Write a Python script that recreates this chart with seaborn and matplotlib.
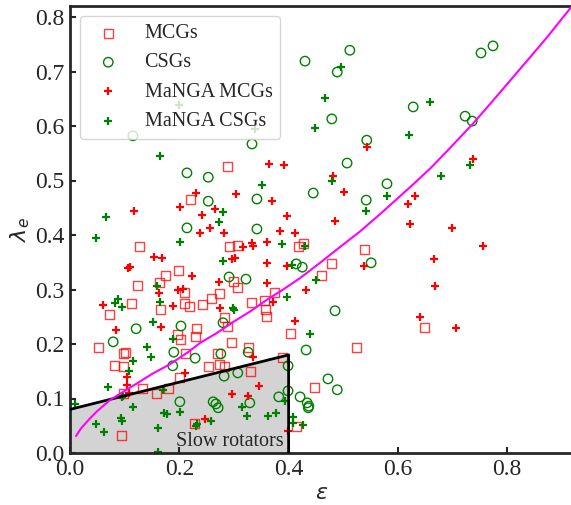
import numpy as np
import pandas as pd
import matplotlib
matplotlib.use("Agg")
import matplotlib.pyplot as plt
import seaborn as sns

# MCGs (open squares)
mcg_eps = [0.289, 0.221, 0.128, 0.291, 0.307, 0.419, 0.428, 0.538, 0.479, 0.461,
           0.403, 0.525, 0.648, 0.448, 0.414, 0.198, 0.174, 0.123, 0.163, 0.274,
           0.300, 0.306, 0.375, 0.333, 0.355, 0.357, 0.360, 0.073, 0.112, 0.165,
           0.209, 0.218, 0.242, 0.259, 0.231, 0.229, 0.196, 0.202, 0.282, 0.289,
           0.295, 0.053, 0.097, 0.102, 0.212, 0.269, 0.326, 0.388, 0.082, 0.097,
           0.132, 0.159, 0.181, 0.201, 0.254, 0.273, 0.282, 0.331, 0.095, 0.227,
           0.097, 0.210]
mcg_lam = [0.525, 0.466, 0.378, 0.378, 0.380, 0.378, 0.385, 0.374, 0.347, 0.325,
           0.220, 0.194, 0.231, 0.121, 0.048, 0.334, 0.325, 0.308, 0.312, 0.292,
           0.314, 0.303, 0.294, 0.277, 0.279, 0.264, 0.251, 0.255, 0.275, 0.264,
           0.275, 0.268, 0.273, 0.284, 0.228, 0.213, 0.218, 0.209, 0.248, 0.233,
           0.202, 0.193, 0.182, 0.185, 0.182, 0.182, 0.193, 0.176, 0.160, 0.158,
           0.119, 0.110, 0.119, 0.138, 0.158, 0.163, 0.158, 0.150, 0.033, 0.055,
           0.110, 0.294]

# CSGs (open circles)
csg_eps = [0.115, 0.214, 0.253, 0.333, 0.342, 0.253, 0.214, 0.342, 0.430, 0.512,
           0.489, 0.479, 0.628, 0.752, 0.774, 0.723, 0.736, 0.543, 0.507, 0.580,
           0.445, 0.542, 0.551, 0.414, 0.425, 0.485, 0.432, 0.399, 0.472, 0.489,
           0.399, 0.421, 0.434, 0.437, 0.436, 0.291, 0.322, 0.121, 0.203, 0.280,
           0.079, 0.190, 0.229, 0.276, 0.326, 0.188, 0.282, 0.307, 0.201, 0.262,
           0.267, 0.271, 0.329, 0.382]
csg_lam = [0.582, 0.514, 0.506, 0.567, 0.466, 0.462, 0.413, 0.411, 0.719, 0.739,
           0.699, 0.613, 0.635, 0.734, 0.747, 0.618, 0.609, 0.574, 0.532, 0.494,
           0.477, 0.464, 0.349, 0.347, 0.341, 0.261, 0.189, 0.160, 0.136, 0.116,
           0.114, 0.103, 0.092, 0.086, 0.083, 0.323, 0.319, 0.228, 0.233, 0.239,
           0.204, 0.185, 0.174, 0.182, 0.185, 0.160, 0.141, 0.147, 0.094, 0.094,
           0.090, 0.083, 0.092, 0.103]

# MaNGA MCGs (red plus)
manga_mcg_eps = [0.364, 0.392, 0.231, 0.201, 0.117, 0.304, 0.370, 0.242, 0.265, 0.256,
                 0.238, 0.282, 0.397, 0.384, 0.360, 0.333, 0.335, 0.317, 0.481, 0.485,
                 0.412, 0.543, 0.501, 0.631, 0.618, 0.622, 0.699, 0.737, 0.756, 0.666,
                 0.668, 0.538, 0.432, 0.412, 0.640, 0.706, 0.399, 0.154, 0.169, 0.106,
                 0.110, 0.223, 0.296, 0.302, 0.360, 0.397, 0.163, 0.198, 0.207, 0.273,
                 0.360, 0.371, 0.060, 0.188, 0.274, 0.084, 0.167, 0.210, 0.335, 0.104,
                 0.104, 0.108, 0.297, 0.326, 0.346, 0.247]
manga_mcg_lam = [0.530, 0.528, 0.477, 0.451, 0.444, 0.475, 0.462, 0.437, 0.448, 0.413,
                 0.404, 0.404, 0.435, 0.407, 0.388, 0.385, 0.380, 0.378, 0.508, 0.426,
                 0.404, 0.561, 0.479, 0.472, 0.457, 0.420, 0.413, 0.539, 0.380, 0.356,
                 0.306, 0.343, 0.299, 0.242, 0.250, 0.229, 0.040, 0.359, 0.358, 0.339,
                 0.341, 0.325, 0.356, 0.357, 0.349, 0.343, 0.294, 0.299, 0.301, 0.314,
                 0.312, 0.277, 0.272, 0.270, 0.266, 0.226, 0.231, 0.147, 0.176, 0.139,
                 0.125, 0.110, 0.108, 0.105, 0.123, 0.062]

# MaNGA CSGs (green plus)
manga_csg_eps = [0.199, 0.339, 0.165, 0.351, 0.066, 0.048, 0.280, 0.273, 0.201, 0.388,
                 0.496, 0.467, 0.448, 0.659, 0.620, 0.479, 0.732, 0.679, 0.580, 0.542,
                 0.430, 0.450, 0.397, 0.406, 0.439, 0.393, 0.408, 0.408, 0.426, 0.280,
                 0.159, 0.082, 0.088, 0.095, 0.165, 0.298, 0.300, 0.152, 0.188, 0.141,
                 0.148, 0.115, 0.108, 0.070, 0.095, 0.097, 0.170, 0.115, 0.009, 0.201,
                 0.172, 0.177, 0.048, 0.062, 0.093, 0.095, 0.161, 0.161, 0.232, 0.231,
                 0.258, 0.315, 0.324, 0.362, 0.377]
manga_csg_lam = [0.639, 0.594, 0.545, 0.491, 0.433, 0.394, 0.442, 0.424, 0.387, 0.383,
                 0.708, 0.651, 0.596, 0.644, 0.583, 0.499, 0.528, 0.508, 0.472, 0.444,
                 0.380, 0.317, 0.286, 0.345, 0.218, 0.095, 0.066, 0.055, 0.051, 0.352,
                 0.306, 0.275, 0.283, 0.268, 0.277, 0.266, 0.262, 0.241, 0.209, 0.195,
                 0.176, 0.169, 0.151, 0.121, 0.103, 0.105, 0.115, 0.084, 0.089, 0.075,
                 0.073, 0.072, 0.054, 0.039, 0.064, 0.059, 0.045, 0.002, 0.053, 0.049,
                 0.059, 0.085, 0.068, 0.068, 0.073]

# magenta edge-on line
curve_eps = [0.011, 0.020, 0.037, 0.050, 0.073, 0.100, 0.123, 0.150, 0.183, 0.216,
             0.238, 0.270, 0.298, 0.330, 0.360, 0.390, 0.421, 0.455, 0.489, 0.530,
             0.567, 0.628, 0.660, 0.690, 0.737, 0.770, 0.811, 0.840, 0.873, 0.917]
curve_lam = [0.031, 0.045, 0.064, 0.077, 0.097, 0.114, 0.128, 0.145, 0.163, 0.185,
             0.202, 0.221, 0.240, 0.260, 0.281, 0.300, 0.321, 0.347, 0.374, 0.406,
             0.438, 0.493, 0.523, 0.554, 0.604, 0.642, 0.690, 0.724, 0.763, 0.818]

# slow rotator region
slow_eps = [0.0, 0.0, 0.4, 0.4]
slow_lam = [0.0, 0.08, 0.18, 0.0]

sns.set_style("ticks")
plt.rcParams["font.family"] = ["Liberation Serif", "DejaVu Serif"]
plt.rcParams["mathtext.fontset"] = "dejavusans"

fig = plt.figure(figsize=(5.71, 5.05), dpi=100)
ax = fig.add_axes([70 / 571, 52 / 505, 502.8 / 571, 446.9 / 505])

ax.fill(slow_eps, slow_lam, facecolor="lightgray", edgecolor="none", zorder=0)
ax.plot(slow_eps[1:], slow_lam[1:], color="black", lw=2, zorder=3)

sns.scatterplot(x=mcg_eps, y=mcg_lam, marker="s", s=42, color="red",
                facecolor="none", edgecolor="red", linewidth=1, alpha=0.75,
                label="MCGs", ax=ax)
sns.scatterplot(x=csg_eps, y=csg_lam, marker="o", s=46, color="green",
                facecolor="none", edgecolor="green", linewidth=1,
                label="CSGs", ax=ax)
sns.scatterplot(x=manga_mcg_eps, y=manga_mcg_lam, marker="+", s=40, color="red",
                linewidth=1.6, label="MaNGA MCGs", ax=ax)
sns.scatterplot(x=manga_csg_eps, y=manga_csg_lam, marker="+", s=40, color="green",
                linewidth=1.6, label="MaNGA CSGs", ax=ax)

sns.lineplot(x=curve_eps, y=curve_lam, sort=False, color="magenta", lw=1.5,
             ax=ax, zorder=4)

ax.text(0.39, 0.004, "Slow rotators", ha="right", va="bottom", fontsize=14.5)

ax.set_xlim(0, 0.92)
ax.set_ylim(0, 0.82)
ax.set_xticks([0.0, 0.2, 0.4, 0.6, 0.8])
ax.set_yticks([0.0, 0.1, 0.2, 0.3, 0.4, 0.5, 0.6, 0.7, 0.8])
ax.set_xlabel(r"$\varepsilon$", fontsize=16, labelpad=4)
ax.set_ylabel(r"$\lambda_e$", fontsize=16, labelpad=2)
ax.tick_params(direction="in", length=4, width=1.5, labelsize=17, pad=4)
for sp in ax.spines.values():
    sp.set_linewidth(2)

ax.legend(loc="upper left", fontsize=14.5)

fig.savefig("out.png", dpi=100)
